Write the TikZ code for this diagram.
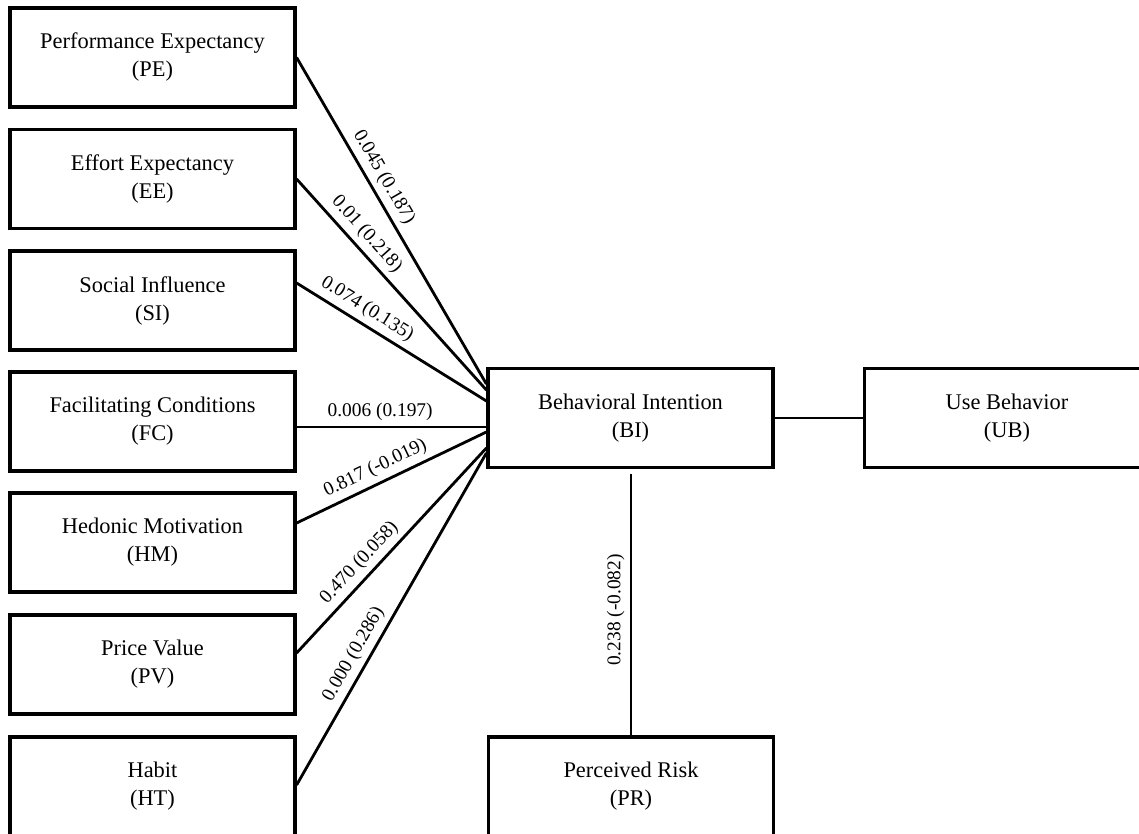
\documentclass[tikz,border=0pt]{standalone}
\usepackage{fontspec}
\setmainfont{Liberation Serif}
\usetikzlibrary{calc}

\begin{document}
\begin{tikzpicture}[x=0.5pt, y=-0.5pt,
    construct/.style={draw, line width=1.6pt, fill=white, minimum width=142.5pt, minimum height=49.5pt, inner sep=0pt, align=center, font=\fontsize{11.2}{14}\selectfont},
    link/.style={line width=1.4pt},
    coef/.style={font=\fontsize{9.7}{11}\selectfont, sloped, above, inner sep=2.5pt}]
    % --- CANVAS ---
    \useasboundingbox (0,0) rectangle (1139,834);
    \clip (0,0) rectangle (1139,834);

    % Left column of constructs
    \node[construct] (PE) at (152.5, 57.5) {Performance Expectancy\\(PE)};
    \node[construct] (EE) at (152.5, 179) {Effort Expectancy\\(EE)};
    \node[construct] (SI) at (152.5, 300.5) {Social Influence\\(SI)};
    \node[construct] (FC) at (152.5, 421.5) {Facilitating Conditions\\(FC)};
    \node[construct] (HM) at (152.5, 542.5) {Hedonic Motivation\\(HM)};
    \node[construct] (PV) at (152.5, 664.5) {Price Value\\(PV)};
    \node[construct] (HT) at (152.5, 786.5) {Habit\\(HT)};

    % Outcome constructs
    \node[construct] (BI) at (630.5, 418) {Behavioral Intention\\(BI)};
    \node[construct] (UB) at (1007, 418) {Use Behavior\\(UB)};
    \node[construct] (PR) at (631, 786.5) {Perceived Risk\\(PR)};

    % Paths into BI
    \draw[link] (PE.east) -- node[coef, pos=0.39] {0.045 (0.187)} ([yshift=17pt]BI.west);
    \draw[link] (EE.east) -- node[coef, pos=0.31] {0.01 (0.218)} ([yshift=14pt]BI.west);
    \draw[link] ([yshift=8.75pt]SI.east) -- node[coef, pos=0.33] {0.074 (0.135)} ([yshift=8.5pt]BI.west);
    \draw[link] ([yshift=-2.75pt]FC.east) -- node[coef, pos=0.44] {0.006 (0.197)} ([yshift=-4.5pt]BI.west);
    \draw[link] ([yshift=9.75pt]HM.east) -- node[coef, pos=0.45] {0.817 (-0.019)} ([yshift=-7pt]BI.west);
    \draw[link] ([yshift=5.75pt]PV.east) -- node[coef, pos=0.39] {0.470 (0.058)} ([yshift=-15pt]BI.west);
    \draw[link] ([yshift=0.75pt]HT.east) -- node[coef, pos=0.37] {0.000 (0.286)} ([yshift=-17.5pt]BI.west);

    % Paths out of BI
    \draw[link] (BI.east) -- (UB.west);
    \draw[link] (PR.north) -- node[coef, pos=0.48] {0.238 (-0.082)} ([yshift=-2.5pt]PR.north |- BI.south);
\end{tikzpicture}
\end{document}
